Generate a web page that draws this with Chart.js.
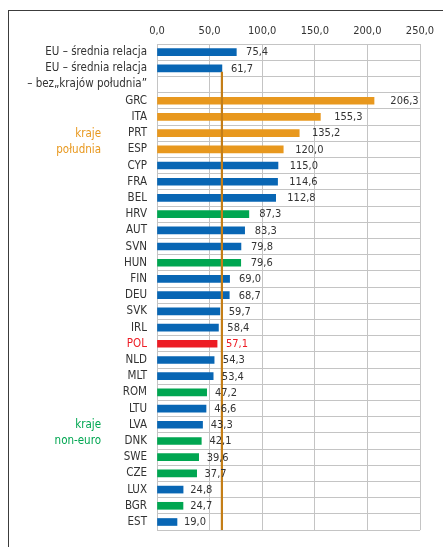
<!DOCTYPE html>
<html>
<head>
<meta charset="utf-8">
<script src="https://cdn.jsdelivr.net/npm/chart.js@4"></script>
<style>
  body { margin: 0; background: #fff; }
  #wrap { position: relative; width: 443px; height: 547px; overflow: hidden; }
  #frame { position: absolute; left: 8px; top: 10px; right: -2px; bottom: -2px;
           border-left: 1.5px solid #3c3c3c; border-top: 1.5px solid #3c3c3c; }
  canvas { position: absolute; left: 0; top: 0; }
</style>
</head>
<body>
<div id="wrap">
  <div id="frame"></div>
  <canvas id="chart" width="443" height="547"></canvas>
</div>
<script>
// rows, top to bottom (third row is the second line of the EU label, no bar)
const categories = ['EU – średnia relacja', 'EU – średnia relacja', '– bez„krajów południa”',
  'GRC', 'ITA', 'PRT', 'ESP', 'CYP', 'FRA', 'BEL', 'HRV', 'AUT', 'SVN', 'HUN', 'FIN',
  'DEU', 'SVK', 'IRL', 'POL', 'NLD', 'MLT', 'ROM', 'LTU', 'LVA', 'DNK', 'SWE', 'CZE',
  'LUX', 'BGR', 'EST'];
const values = [75.4, 61.7, null,
  206.3, 155.3, 135.2, 120.0, 115.0, 114.6, 112.8, 87.3, 83.3, 79.8, 79.6, 69.0,
  68.7, 59.7, 58.4, 57.1, 54.3, 53.4, 47.2, 46.6, 43.3, 42.1, 39.6, 37.7,
  24.8, 24.7, 19.0];
const groups = ['euro', 'euro', null,
  'south', 'south', 'south', 'south', 'euro', 'euro', 'euro', 'noneuro', 'euro', 'euro', 'noneuro', 'euro',
  'euro', 'euro', 'euro', 'pol', 'euro', 'euro', 'noneuro', 'euro', 'euro', 'noneuro', 'noneuro', 'noneuro',
  'euro', 'noneuro', 'euro'];
const xTicks = [0, 50, 100, 150, 200, 250];
const refIndex = 1; // EU average without southern countries -> vertical line
const groupNotes = [
  { lines: ['kraje', 'południa'], rows: ['PRT', 'ESP'], group: 'south' },
  { lines: ['kraje', 'non-euro'], rows: ['LVA', 'DNK'], group: 'noneuro' }
];

const colors = { euro: '#0866b4', south: '#e8981e', noneuro: '#00a651', pol: '#ed1c24' };
const textColor = '#333333';
const font = "'Liberation Sans Narrow', 'DejaVu Sans Condensed', 'Noto Sans', sans-serif";
const fmt = v => v.toFixed(1).replace('.', ',');
const BAR = 7;

const extras = {
  id: 'extras',
  afterDatasetsDraw(chart) {
    const c = chart.ctx, x = chart.scales.x, y = chart.scales.y, area = chart.chartArea;
    // vertical reference line
    const rx = x.getPixelForValue(values[refIndex]);
    c.save();
    c.strokeStyle = '#c47e17';
    c.lineWidth = 2.2;
    c.beginPath();
    c.moveTo(rx, y.getPixelForValue(refIndex) + BAR / 2);
    c.lineTo(rx, area.bottom);
    c.stroke();
    // value labels (gap grows a bit with bar length, as in the original)
    c.font = '11px ' + font;
    c.textBaseline = 'middle';
    c.textAlign = 'left';
    values.forEach((v, i) => {
      if (v === null) return;
      c.fillStyle = groups[i] === 'pol' ? colors.pol : textColor;
      c.fillText(fmt(v), x.getPixelForValue(v) + 6 + v * 0.05, y.getPixelForValue(i) + 0.5);
    });
    // group notes on the left
    c.font = '11.5px ' + font;
    c.textAlign = 'right';
    groupNotes.forEach(n => {
      c.fillStyle = colors[n.group];
      n.lines.forEach((t, k) => {
        c.fillText(t, 101, y.getPixelForValue(categories.indexOf(n.rows[k])) + 0.5);
      });
    });
    c.restore();
  }
};

new Chart(document.getElementById('chart'), {
  type: 'bar',
  data: {
    labels: categories,
    datasets: [{
      data: values,
      backgroundColor: groups.map(g => g ? colors[g] : 'transparent'),
      barThickness: BAR,
      borderWidth: 0
    }]
  },
  options: {
    indexAxis: 'y',
    responsive: false,
    animation: false,
    layout: { padding: { left: 0, right: 23, top: 0, bottom: 8 } },
    plugins: { legend: { display: false }, tooltip: { enabled: false } },
    scales: {
      x: {
        position: 'top',
        min: 0, max: 250,
        afterBuildTicks: s => { s.ticks = xTicks.map(v => ({ value: v })); },
        afterFit: s => { s.height = 44; },
        ticks: { callback: v => fmt(v), color: textColor, font: { family: font, size: 11 }, padding: 6 },
        grid: { color: '#c4c4c4', lineWidth: 1, drawTicks: false },
        border: { color: '#c4c4c4' }
      },
      y: {
        afterFit: s => { s.width = 157; },
        ticks: {
          autoSkip: false,
          color: ctx => groups[ctx.index] === 'pol' ? colors.pol : textColor,
          font: { family: font, size: 11.5 },
          padding: 10
        },
        grid: { color: '#c4c4c4', lineWidth: 1, drawTicks: false },
        border: { color: '#c4c4c4' }
      }
    }
  },
  plugins: [extras]
});
</script>
</body>
</html>
